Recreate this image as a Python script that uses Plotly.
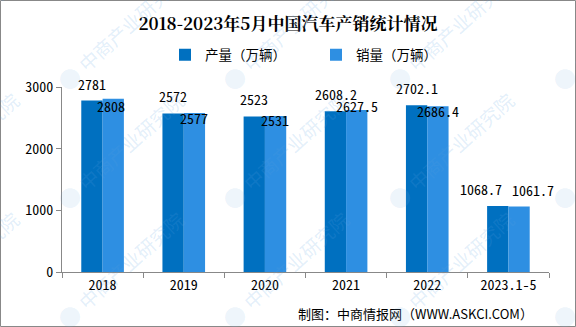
import plotly.graph_objects as go

categories = ["2018", "2019", "2020", "2021", "2022", "2023.1-5"]
production = [2781, 2572, 2523, 2608.2, 2702.1, 1068.7]
sales = [2808, 2577, 2531, 2627.5, 2686.4, 1061.7]
production_labels = ["2781", "2572", "2523", "2608.2", "2702.1", "1068.7"]
sales_labels = ["2808", "2577", "2531", "2627.5", "2686.4", "1061.7"]
y_ticks = [0, 1000, 2000, 3000]

# style: label offsets (px) as placed in the original
prod_label_dx = [0, 0, 0, 0, 0, -17]
sales_label_dx = [-2, 0, 0, 0, 0, 14]
sales_label_dy = [-7, -5, -4, 4, -5, 17]

C_PROD = "#0070C0"
C_SALE = "#2E8FE2"
NUM_FONT = "Noto Sans Mono CJK SC, DejaVu Sans Mono, monospace"
CJK_FONT = "Noto Sans CJK SC, sans-serif"

W, H = 576, 327
ML, MR, MT, MB = 62, 27, 87, 55
PW, PH = W - ML - MR, H - MT - MB

fig = go.Figure()
fig.add_trace(go.Bar(x=categories, y=production, name="产量（万辆）", marker_color=C_PROD,
                     marker_line_width=0))
fig.add_trace(go.Bar(x=categories, y=sales, name="销量（万辆）", marker_color=C_SALE,
                     marker_line_width=0))

ann = []
for i, (v, t, dx) in enumerate(zip(production, production_labels, prod_label_dx)):
    ann.append(dict(x=i, y=v, xref="x", yref="y", text=t, showarrow=False,
                    xshift=-10.5 + dx, yshift=17,
                    yanchor="middle", font=dict(family=NUM_FONT, size=14, color="#000")))
for i, (v, t, dx, dy) in enumerate(zip(sales, sales_labels, sales_label_dx, sales_label_dy)):
    ann.append(dict(x=i, y=v, xref="x", yref="y", text=t, showarrow=False,
                    xshift=10.5 + dx, yshift=dy,
                    yanchor="middle", font=dict(family=NUM_FONT, size=14, color="#000")))

# source note
ann.append(dict(xref="paper", yref="paper", x=(535 - ML) / PW, y=(H - MB - 313) / PH,
                xanchor="right", yanchor="middle", showarrow=False,
                text="制图：中商情报网（WWW.ASKCI.COM）",
                font=dict(family=CJK_FONT, size=13, color="#000")))

# watermarks
for i in range(-1, 4):
    for j in range(3):
        lx = 70 + 165 * i
        ly = 77 + 119 * j
        cx, cy = lx + 60, ly - 55
        ann.append(dict(xref="paper", yref="paper", x=(cx - ML) / PW, y=(H - MB - cy) / PH,
                        text="中商产业研究院", showarrow=False, textangle=-42,
                        xanchor="center", yanchor="middle",
                        font=dict(family=CJK_FONT, size=19, color="rgba(90,160,225,0.18)")))
        ann.append(dict(xref="paper", yref="paper", x=(lx - ML) / PW, y=(H - MB - ly) / PH,
                        text="●", showarrow=False, xanchor="center", yanchor="middle",
                        font=dict(family=CJK_FONT, size=22, color="rgba(120,180,230,0.15)")))

fig.update_layout(
    width=W, height=H,
    margin=dict(l=ML, r=MR, t=MT, b=MB, autoexpand=False),
    paper_bgcolor="white", plot_bgcolor="rgba(0,0,0,0)",
    barmode="group", bargap=0.475, bargroupgap=0,
    title=dict(text="<b>2018-2023年5月中国汽车产销统计情况</b>", x=0.5, xanchor="center",
               xref="container", y=1 - 24 / H, yanchor="middle", yref="container",
               font=dict(family="Noto Serif CJK SC, Noto Sans CJK SC, serif", size=17, color="#000")),
    legend=dict(orientation="h", xref="container", yref="container", x=165 / W, xanchor="left",
                y=1 - 55 / H, yanchor="middle", bgcolor="rgba(0,0,0,0)",
                font=dict(family=CJK_FONT, size=13.5, color="#000"),
                itemwidth=30, entrywidth=106, entrywidthmode="pixels", traceorder="normal"),
    xaxis=dict(type="category", range=[-0.5, len(categories) - 0.5], showline=True,
               linecolor="#888", linewidth=1,
               ticks="outside", tickson="boundaries", ticklen=5, tickcolor="#888",
               showgrid=False, tickfont=dict(family=NUM_FONT, size=14, color="#000")),
    yaxis=dict(range=[0, 3000], tickvals=y_ticks, showline=True, linecolor="#888",
               linewidth=1, ticks="outside", ticklen=5, tickcolor="#888", showgrid=False,
               zeroline=False, tickfont=dict(family=NUM_FONT, size=14, color="#000")),
    annotations=ann,
    shapes=[dict(type="rect", xref="paper", yref="paper",
                 x0=(0.5 - ML) / PW, x1=(W - 0.5 - ML) / PW,
                 y0=(H - MB - H + 0.5) / PH, y1=(H - MB - 0.5) / PH,
                 line=dict(color="#888", width=1), fillcolor="rgba(0,0,0,0)", layer="below")],
    showlegend=True,
)

fig.write_html("out.html")
